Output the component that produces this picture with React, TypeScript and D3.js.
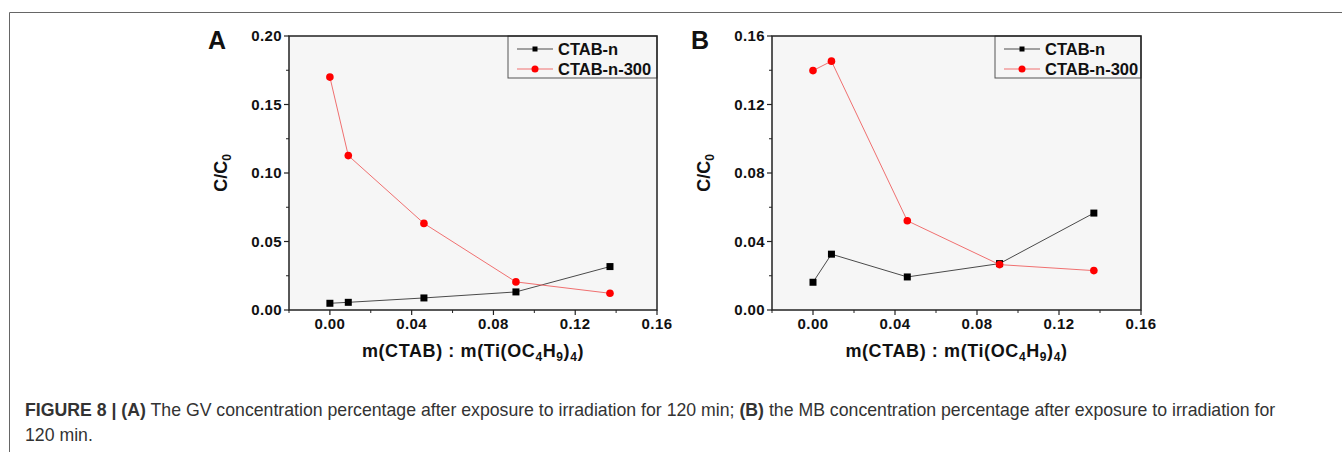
import React from 'react';
import * as d3 from 'd3';

// x values (mass ratio CTAB : Ti(OC4H9)4), shared by both panels
const ratios = [0, 0.009, 0.046, 0.091, 0.137];

// panel A: GV
const gvCtab = [0.0049, 0.0056, 0.0088, 0.0132, 0.0317];
const gvCtab300 = [0.170, 0.1127, 0.0632, 0.0205, 0.0122];

// panel B: MB
const mbCtab = [0.0162, 0.0326, 0.0193, 0.0271, 0.0566];
const mbCtab300 = [0.1398, 0.1453, 0.0521, 0.0265, 0.0230];

const xTicks = [0, 0.04, 0.08, 0.12, 0.16];
const xMinor = [-0.02, 0.02, 0.06, 0.1, 0.14];
const yTicksA = [0, 0.05, 0.1, 0.15, 0.2];
const yMinorA = [0.025, 0.075, 0.125, 0.175];
const yTicksB = [0, 0.04, 0.08, 0.12, 0.16];
const yMinorB = [0.02, 0.06, 0.1, 0.14];

const seriesNames = ['CTAB-n', 'CTAB-n-300'];

const FONT = 'Arial, "Liberation Sans", Helvetica, sans-serif';
const BLACK_LINE = '#4a4a4a';
const RED_LINE = '#f07070';
const RED = '#ff0000';

type PanelProps = {
  letter: string;
  left: number;
  right: number;
  top: number;
  bottom: number;
  yMax: number;
  yTicks: number[];
  yMinor: number[];
  black: number[];
  red: number[];
  legendLeft: number;
};

const Panel = ({ letter, left, right, top, bottom, yMax, yTicks, yMinor, black, red, legendLeft }: PanelProps) => {
  const x = d3.scaleLinear().domain([-0.02, 0.16]).range([left, right]);
  const y = d3.scaleLinear().domain([0, yMax]).range([bottom, top]);
  const line = d3.line<number>().x((_, i) => x(ratios[i])).y(d => y(d));
  const cx = (left + right) / 2;
  const cy = (top + bottom) / 2;
  const legendBottom = top + 42;

  return (
    <g fontFamily={FONT} fill="#111">
      <text x={left - 81} y={top + 13} fontSize={25} fontWeight="bold">{letter}</text>
      <rect x={left} y={top} width={right - left} height={bottom - top} fill="#f6f6f6" />

      {/* series */}
      <path d={line(black) || ''} fill="none" stroke={BLACK_LINE} strokeWidth={1} />
      <path d={line(red) || ''} fill="none" stroke={RED_LINE} strokeWidth={1} />
      {black.map((d, i) => (
        <rect key={`b${i}`} x={x(ratios[i]) - 3.5} y={y(d) - 3.5} width={7} height={7} fill="#000" />
      ))}
      {red.map((d, i) => (
        <circle key={`r${i}`} cx={x(ratios[i])} cy={y(d)} r={3.8} fill={RED} />
      ))}

      {/* legend */}
      <rect x={legendLeft} y={top} width={right - legendLeft} height={legendBottom - top} fill="none" stroke="#555" strokeWidth={1} />
      {seriesNames.map((name, i) => {
        const ly = top + 13 + i * 20;
        return (
          <g key={name}>
            <line x1={legendLeft + 9} x2={legendLeft + 45} y1={ly} y2={ly} stroke={i === 0 ? BLACK_LINE : RED_LINE} />
            {i === 0
              ? <rect x={legendLeft + 24.5} y={ly - 2.5} width={5} height={5} fill="#000" />
              : <circle cx={legendLeft + 27} cy={ly} r={3.5} fill={RED} />}
            <text x={legendLeft + 50} y={ly + 6} fontSize={16.5} fontWeight="bold">{name}</text>
          </g>
        );
      })}

      {/* frame */}
      <rect x={left} y={top} width={right - left} height={bottom - top} fill="none" stroke="#222" strokeWidth={1.5} />

      {/* x ticks */}
      {xTicks.map(t => (
        <g key={`xt${t}`}>
          <line x1={x(t)} x2={x(t)} y1={bottom} y2={bottom + 5} stroke="#222" strokeWidth={1.2} />
          <text x={x(t)} y={bottom + 19} fontSize={15} letterSpacing={0.4} fontWeight="bold" textAnchor="middle">{t.toFixed(2)}</text>
        </g>
      ))}
      {xMinor.map(t => (
        <line key={`xm${t}`} x1={x(t)} x2={x(t)} y1={bottom} y2={bottom + 3} stroke="#222" strokeWidth={1} />
      ))}

      {/* y ticks */}
      {yTicks.map(t => (
        <g key={`yt${t}`}>
          <line x1={left - 5} x2={left} y1={y(t)} y2={y(t)} stroke="#222" strokeWidth={1.2} />
          <text x={left - 7} y={y(t) + 5} fontSize={15} letterSpacing={0.4} fontWeight="bold" textAnchor="end">{t.toFixed(2)}</text>
        </g>
      ))}
      {yMinor.map(t => (
        <line key={`ym${t}`} x1={left - 3} x2={left} y1={y(t)} y2={y(t)} stroke="#222" strokeWidth={1} />
      ))}

      {/* axis titles */}
      <text transform={`translate(${left - 62}, ${cy}) rotate(-90)`} fontSize={18} fontWeight="bold" textAnchor="middle">
        C/C<tspan fontSize={12} dy={4}>0</tspan>
      </text>
      <text x={cx} y={bottom + 47} fontSize={18} letterSpacing={0.6} fontWeight="bold" textAnchor="middle">
        m(CTAB) : m(Ti(OC<tspan fontSize={12} dy={4}>4</tspan><tspan dy={-4}>H</tspan><tspan fontSize={12} dy={4}>9</tspan><tspan dy={-4}>)</tspan><tspan fontSize={12} dy={4}>4</tspan><tspan dy={-4}>)</tspan>
      </text>
    </g>
  );
};

const App = () => (
  <svg width={1342} height={452} style={{ position: 'absolute', left: 0, top: 0, background: '#fff' }}>
    {/* outer figure frame */}
    <path d="M9.5,452 V12.5 H1342" fill="none" stroke="#666" strokeWidth={1} />

    <Panel letter="A" left={289} right={657} top={36} bottom={310} yMax={0.2} yTicks={yTicksA} yMinor={yMinorA}
      black={gvCtab} red={gvCtab300} legendLeft={508} />
    <Panel letter="B" left={772} right={1141} top={36} bottom={310} yMax={0.16} yTicks={yTicksB} yMinor={yMinorB}
      black={mbCtab} red={mbCtab300} legendLeft={995} />

    {/* caption */}
    <g fontFamily={FONT} fontSize={17.7} fill="#333">
      <text x={25} y={416}>
        <tspan fontWeight="bold">FIGURE 8 | (A)</tspan> The GV concentration percentage after exposure to irradiation for 120 min; <tspan fontWeight="bold">(B)</tspan> the MB concentration percentage after exposure to irradiation for
      </text>
      <text x={25} y={441}>120 min.</text>
    </g>
  </svg>
);

export default App;
